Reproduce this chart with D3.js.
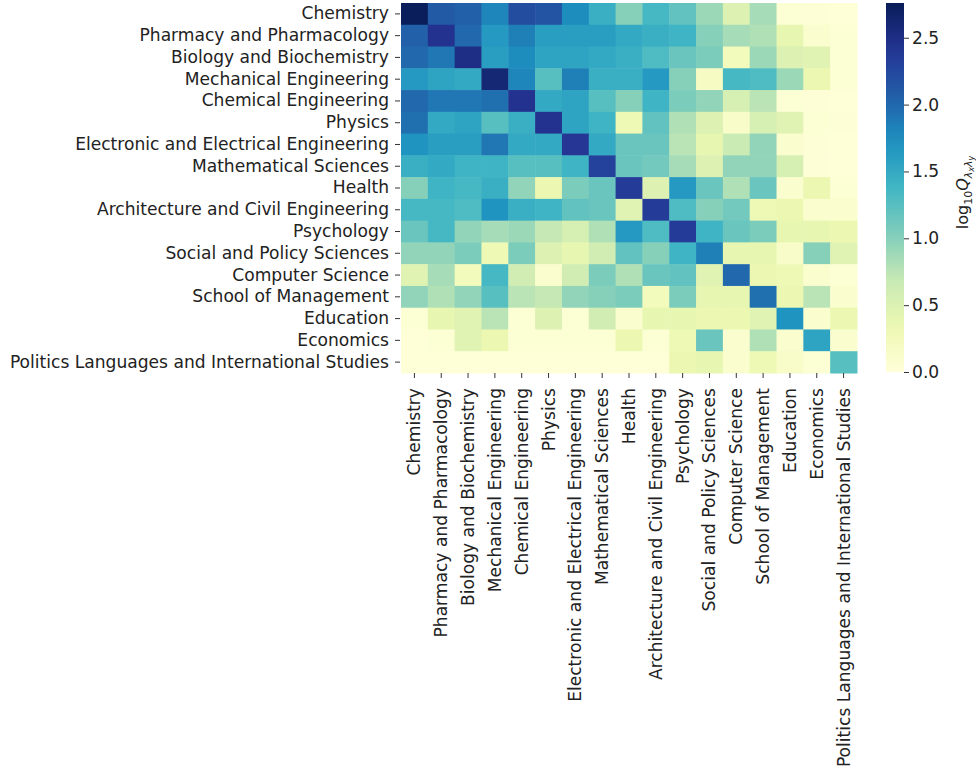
<!DOCTYPE html>
<html>
<head>
<meta charset="utf-8">
<script src="https://cdn.jsdelivr.net/npm/d3@7"></script>
<style>
  html, body { margin: 0; padding: 0; background: #fff; }
  svg { display: block; }
  text { font-family: "DejaVu Sans", sans-serif; fill: #222; }
</style>
</head>
<body>
<svg id="chart" width="976" height="774"></svg>
<script>
const categories = [
  "Chemistry",
  "Pharmacy and Pharmacology",
  "Biology and Biochemistry",
  "Mechanical Engineering",
  "Chemical Engineering",
  "Physics",
  "Electronic and Electrical Engineering",
  "Mathematical Sciences",
  "Health",
  "Architecture and Civil Engineering",
  "Psychology",
  "Social and Policy Sciences",
  "Computer Science",
  "School of Management",
  "Education",
  "Economics",
  "Politics Languages and International Studies"
];

// log10 Q values, one array per row (same order as categories)
const rowChemistry   = [2.75,2.10,2.05,1.80,2.20,2.15,1.75,1.45,1.00,1.35,1.20,0.90,0.50,0.85,0.05,0.03,0.02];
const rowPharmacy    = [2.05,2.45,2.00,1.65,1.85,1.60,1.60,1.60,1.50,1.45,1.40,1.00,0.85,0.80,0.40,0.10,0.05];
const rowBiology     = [2.00,1.90,2.50,1.60,1.75,1.55,1.55,1.50,1.45,1.30,1.15,1.05,0.25,0.90,0.50,0.45,0.05];
const rowMechanical  = [1.65,1.55,1.50,2.60,1.80,1.25,1.85,1.45,1.45,1.65,1.00,0.20,1.35,1.30,0.90,0.35,0.05];
const rowChemEng     = [2.00,1.90,1.90,1.95,2.45,1.50,1.55,1.25,1.00,1.40,1.05,0.95,0.55,0.75,0.05,0.03,0.02];
const rowPhysics     = [1.95,1.50,1.55,1.25,1.45,2.45,1.55,1.40,0.30,1.20,0.80,0.50,0.15,0.55,0.45,0.05,0.03];
const rowElectronic  = [1.70,1.60,1.60,1.90,1.50,1.50,2.40,1.50,1.15,1.15,0.75,0.40,0.65,0.95,0.10,0.03,0.02];
const rowMaths       = [1.45,1.50,1.40,1.40,1.25,1.25,1.40,2.30,1.15,1.10,0.85,0.50,0.95,0.95,0.55,0.03,0.02];
const rowHealth      = [1.00,1.40,1.35,1.45,0.95,0.35,1.05,1.15,2.35,0.50,1.65,1.15,0.80,1.15,0.10,0.35,0.05];
const rowArchitect   = [1.35,1.35,1.30,1.70,1.45,1.40,1.20,1.15,0.45,2.35,1.30,1.00,1.10,0.30,0.35,0.10,0.10];
const rowPsychology  = [1.15,1.35,0.95,0.85,0.90,0.70,0.55,0.80,1.65,1.30,2.35,1.40,1.15,1.05,0.40,0.40,0.35];
const rowSocial      = [0.95,0.95,1.05,0.30,1.05,0.50,0.40,0.60,1.20,1.00,1.40,1.85,0.40,0.40,0.15,1.00,0.45];
const rowComputer    = [0.45,0.85,0.25,1.35,0.60,0.10,0.60,1.05,0.80,1.15,1.20,0.45,2.00,0.35,0.30,0.10,0.05];
const rowManagement  = [0.95,0.80,0.95,1.25,0.75,0.70,0.95,1.00,1.05,0.25,1.05,0.40,0.40,1.95,0.35,0.75,0.10];
const rowEducation   = [0.05,0.40,0.45,0.75,0.05,0.50,0.05,0.60,0.10,0.40,0.40,0.35,0.35,0.45,1.70,0.10,0.35];
const rowEconomics   = [0.02,0.05,0.45,0.35,0.05,0.05,0.05,0.05,0.35,0.05,0.30,1.15,0.10,0.80,0.10,1.55,0.10];
const rowPolitics    = [0.02,0.02,0.02,0.02,0.02,0.02,0.02,0.02,0.02,0.02,0.35,0.40,0.10,0.30,0.15,0.05,1.25];

const rows = [rowChemistry,rowPharmacy,rowBiology,rowMechanical,rowChemEng,rowPhysics,rowElectronic,
  rowMaths,rowHealth,rowArchitect,rowPsychology,rowSocial,rowComputer,rowManagement,rowEducation,rowEconomics,rowPolitics];

const colorTicks = [0.0, 0.5, 1.0, 1.5, 2.0, 2.5];
const vmin = 0, vmax = 2.76;

const cells = [];
rows.forEach((r, i) => r.forEach((v, j) => cells.push({row: categories[i], col: categories[j], v})));

const svg = d3.select("#chart");

const x = d3.scaleBand().domain(categories).range([401, 857]);
const y = d3.scaleBand().domain(categories).range([3, 373]);

// matplotlib-style YlGnBu (linear between 9 anchor colours)
const anchors = d3.schemeYlGnBu[9];
const color = d3.scaleLinear()
  .domain(anchors.map((_, k) => vmin + (vmax - vmin) * k / (anchors.length - 1)))
  .range(anchors)
  .interpolate(d3.interpolateRgb)
  .clamp(true);

svg.append("g").selectAll("rect").data(cells).join("rect")
  .attr("x", d => x(d.col))
  .attr("y", d => y(d.row))
  .attr("width", x.bandwidth() + 0.5)
  .attr("height", y.bandwidth() + 0.5)
  .attr("fill", d => color(d.v));

const fontSize = 17.1;

// Y axis
const yAxis = svg.append("g").attr("transform", "translate(400,0)")
  .call(d3.axisLeft(y).tickSize(5).tickPadding(6));
yAxis.select(".domain").remove();
yAxis.selectAll(".tick line").attr("stroke", "#333");
yAxis.selectAll("text").style("font-size", fontSize + "px").attr("fill", "#222");

// X axis
const xAxis = svg.append("g").attr("transform", "translate(0,373)")
  .call(d3.axisBottom(x).tickSize(5).tickPadding(3));
xAxis.select(".domain").remove();
xAxis.selectAll(".tick line").attr("stroke", "#333");
xAxis.selectAll("text")
  .style("font-size", fontSize + "px").attr("fill", "#222")
  .attr("text-anchor", "end")
  .attr("transform", "rotate(-90)")
  .attr("x", -15).attr("y", 0).attr("dy", "0.35em");

// Colorbar
const cbX = 886, cbW = 18, cbTop = 3, cbBot = 372;
const cScale = d3.scaleLinear().domain([vmin, vmax]).range([cbBot, cbTop]);
const defs = svg.append("defs");
const grad = defs.append("linearGradient").attr("id", "cbgrad")
  .attr("x1", 0).attr("y1", 1).attr("x2", 0).attr("y2", 0);
d3.range(0, 1.0001, 0.05).forEach(t => {
  grad.append("stop").attr("offset", t).attr("stop-color", color(vmin + t * (vmax - vmin)));
});
svg.append("rect").attr("x", cbX).attr("y", cbTop).attr("width", cbW).attr("height", cbBot - cbTop)
  .attr("fill", "url(#cbgrad)");
const cAxis = svg.append("g").attr("transform", `translate(${cbX + cbW},0)`)
  .call(d3.axisRight(cScale).tickValues(colorTicks).tickFormat(d3.format(".1f")).tickSize(5).tickPadding(3));
cAxis.select(".domain").remove();
cAxis.selectAll(".tick line").attr("stroke", "#333");
cAxis.selectAll("text").style("font-size", fontSize + "px").attr("fill", "#222");

// Colorbar label: log10 Q_{λx λy}
const lbl = svg.append("text")
  .attr("transform", `translate(968,${(cbTop + cbBot) / 2 + 5}) rotate(-90)`)
  .attr("text-anchor", "middle")
  .style("font-size", "16px");
lbl.append("tspan").text("log");
lbl.append("tspan").attr("dy", 4).style("font-size", "11px").text("10");
lbl.append("tspan").attr("dy", -4).style("font-style", "italic").text("Q");
lbl.append("tspan").attr("dy", 4).style("font-size", "11px").style("font-style", "italic").text("λ");
lbl.append("tspan").attr("dy", 2).style("font-size", "8px").style("font-style", "italic").text("x");
lbl.append("tspan").attr("dy", -2).style("font-size", "11px").style("font-style", "italic").text("λ");
lbl.append("tspan").attr("dy", 2).style("font-size", "8px").style("font-style", "italic").text("y");
</script>
</body>
</html>
